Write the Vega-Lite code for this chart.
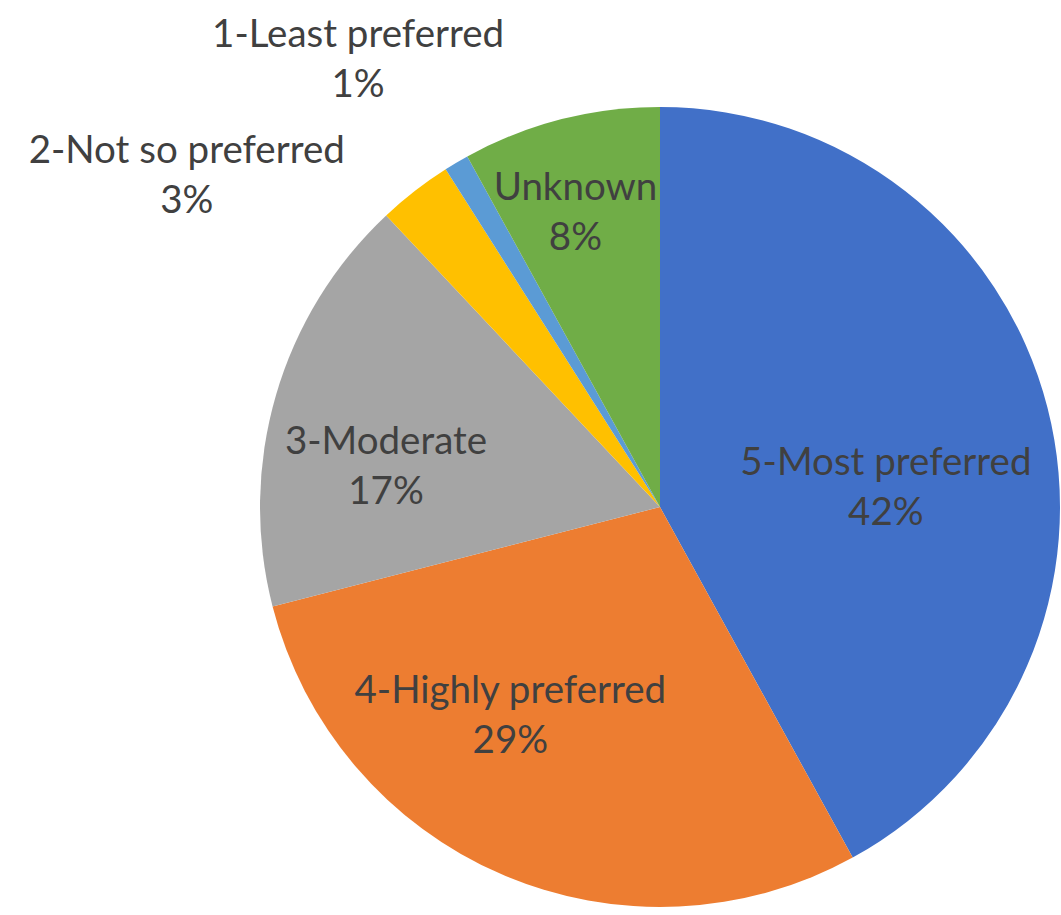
{
  "$schema": "https://vega.github.io/schema/vega-lite/v6.json",
  "width": 800,
  "height": 800,
  "autosize": {"type": "none"},
  "padding": {"left": 260, "top": 107, "right": 1, "bottom": 8},
  "background": "white",
  "config": {"view": {"stroke": null}},
  "data": {
    "values": [
      {"category": "5-Most preferred", "value": 42, "order": 1, "label": "5-Most preferred\n42%"},
      {"category": "4-Highly preferred", "value": 29, "order": 2, "label": "4-Highly preferred\n29%"},
      {"category": "3-Moderate", "value": 17, "order": 3, "label": "3-Moderate\n17%"},
      {"category": "2-Not so preferred", "value": 3, "order": 4, "label": "2-Not so preferred\n3%"},
      {"category": "1-Least preferred", "value": 1, "order": 5, "label": "1-Least preferred\n1%"},
      {"category": "Unknown", "value": 8, "order": 6, "label": "Unknown\n8%"}
    ]
  },
  "encoding": {
    "theta": {"field": "value", "type": "quantitative", "stack": true},
    "order": {"field": "order", "type": "quantitative"}
  },
  "layer": [
    {
      "mark": {"type": "arc"},
      "encoding": {
        "color": {
          "field": "category",
          "type": "nominal",
          "legend": null,
          "scale": {
            "domain": ["5-Most preferred", "4-Highly preferred", "3-Moderate", "2-Not so preferred", "1-Least preferred", "Unknown"],
            "range": ["#4170C8", "#ED7D31", "#A5A5A5", "#FFC000", "#5B9BD5", "#70AD47"]
          }
        }
      }
    },
    {
      "mark": {"type": "text", "radius": 227, "dx": 6, "dy": 12, "font": "Lato", "fontSize": 38.5, "lineHeight": 50, "lineBreak": "\n", "fill": "#404040", "align": "center", "baseline": "middle"},
      "encoding": {"text": {"condition": {"test": "datum.category === '5-Most preferred'", "field": "label"}, "value": ""}}
    },
    {
      "mark": {"type": "text", "radius": 256, "dx": -48, "dy": -51, "font": "Lato", "fontSize": 38.5, "lineHeight": 50, "lineBreak": "\n", "fill": "#404040", "align": "center", "baseline": "middle"},
      "encoding": {"text": {"condition": {"test": "datum.category === '4-Highly preferred'", "field": "label"}, "value": ""}}
    },
    {
      "mark": {"type": "text", "radius": 277, "dx": -8, "dy": 12, "font": "Lato", "fontSize": 38.5, "lineHeight": 50, "lineBreak": "\n", "fill": "#404040", "align": "center", "baseline": "middle"},
      "encoding": {"text": {"condition": {"test": "datum.category === '3-Moderate'", "field": "label"}, "value": ""}}
    },
    {
      "mark": {"type": "text", "radius": 308, "dx": -8, "dy": -21, "font": "Lato", "fontSize": 38.5, "lineHeight": 50, "lineBreak": "\n", "fill": "#404040", "align": "center", "baseline": "middle"},
      "encoding": {"text": {"condition": {"test": "datum.category === 'Unknown'", "field": "label"}, "value": ""}}
    },
    {
      "mark": {"type": "text", "radius": 542, "dx": -26, "dy": -5, "font": "Lato", "fontSize": 38.5, "lineHeight": 50, "lineBreak": "\n", "fill": "#404040", "align": "center", "baseline": "middle"},
      "encoding": {"text": {"condition": {"test": "datum.category === '1-Least preferred'", "field": "label"}, "value": ""}}
    },
    {
      "mark": {"type": "text", "radius": 578, "dx": -119, "dy": 101, "font": "Lato", "fontSize": 38.5, "lineHeight": 50, "lineBreak": "\n", "fill": "#404040", "align": "center", "baseline": "middle"},
      "encoding": {"text": {"condition": {"test": "datum.category === '2-Not so preferred'", "field": "label"}, "value": ""}}
    }
  ]
}
